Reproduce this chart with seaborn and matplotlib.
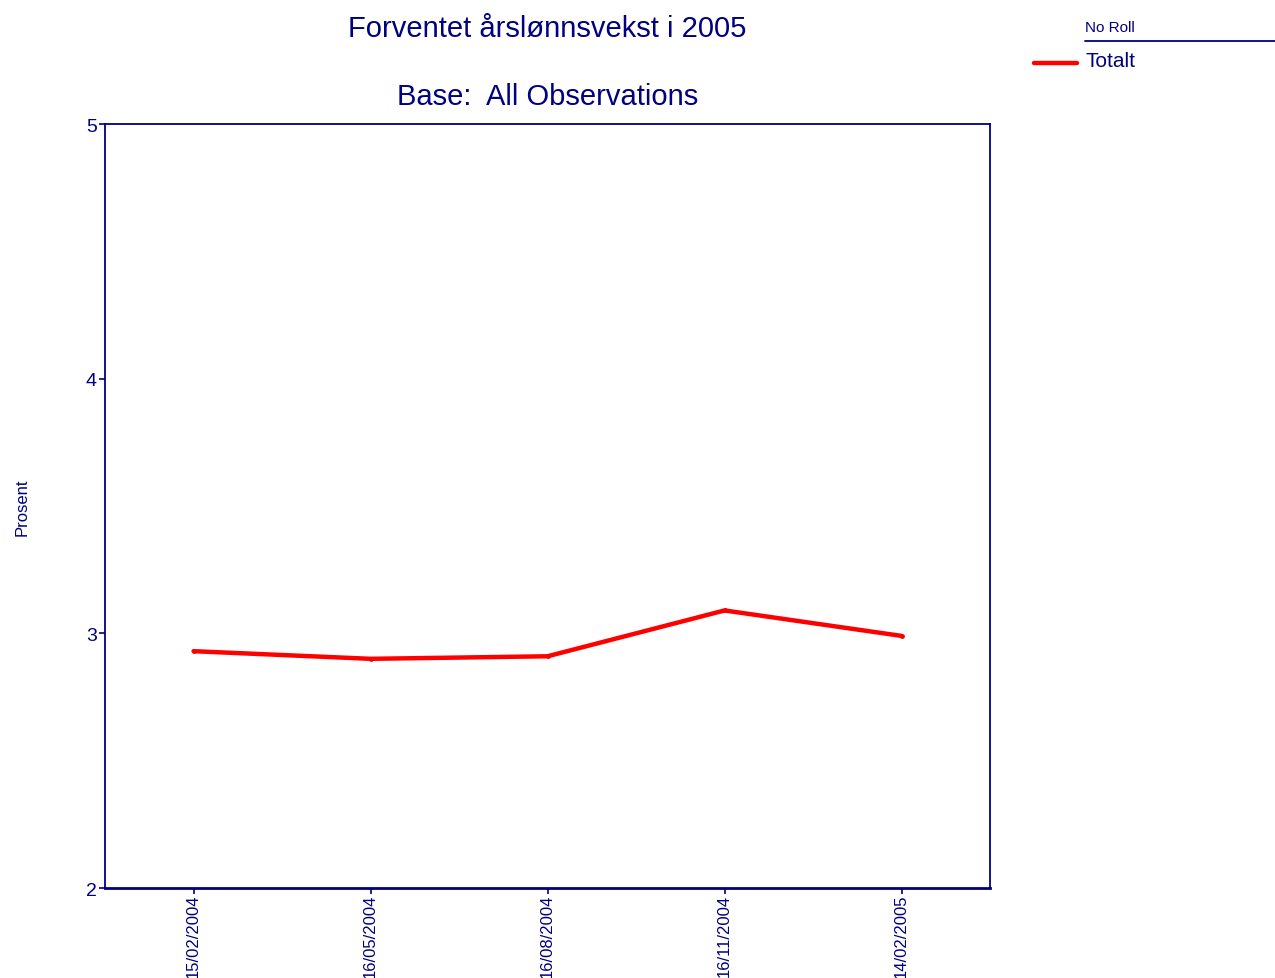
"""
Forventet årslønnsvekst i 2005 – line chart, Base: All Observations
"""

import pandas as pd
import matplotlib.pyplot as plt
from matplotlib.lines import Line2D
import seaborn as sns

NAVY = "#000080"
RED = "#ff0000"

DATES = ["15/02/2004", "16/05/2004", "16/08/2004", "16/11/2004", "14/02/2005"]
TOTALT = [2.93, 2.90, 2.91, 3.09, 2.99]
Y_TICKS = [2, 3, 4, 5]

df = pd.DataFrame({"dato": DATES, "Totalt": TOTALT})
df["pos"] = range(len(df))

sns.set_style("white")
plt.rcParams["font.family"] = ["Liberation Sans", "DejaVu Sans"]

fig = plt.figure(figsize=(12.75, 9.79), dpi=100)
ax = fig.add_axes([0.0824, 0.0919, 0.6941, 0.7804])

sns.lineplot(data=df, x="pos", y="Totalt", ax=ax, color=RED, linewidth=3.2,
             marker="o", markersize=3.5, markeredgewidth=0, legend=False)

ax.set_xlim(-0.5, len(DATES) - 0.5)
ax.set_ylim(2, 5)
ax.set_xticks(df["pos"])
ax.set_xticklabels(DATES, rotation=90, fontsize=12, color=NAVY)
ax.set_yticks(Y_TICKS)
ax.set_yticklabels([str(t) for t in Y_TICKS], fontsize=14, color=NAVY)
ax.tick_params(axis="both", direction="out", length=4, width=1.2, color=NAVY,
               left=True, bottom=True, pad=2)
ax.tick_params(axis="x", pad=0)
ax.set_xlabel("")
ax.set_ylabel("Prosent", fontsize=12, color=NAVY)
ax.yaxis.set_label_coords(-0.085, 0.5)
for side in ["left", "right", "top", "bottom"]:
    ax.spines[side].set_color(NAVY)
    ax.spines[side].set_linewidth(1.3)
ax.spines["bottom"].set_linewidth(2)

# titles
fig.text(0.4294, 0.970, "Forventet årslønnsvekst i 2005", ha="center", va="center",
         fontsize=21, color=NAVY)
fig.text(0.4294, 0.901, "Base:  All Observations", ha="center", va="center",
         fontsize=21, color=NAVY)

# legend block
fig.text(0.851, 0.971, "No Roll", ha="left", va="center", fontsize=11, color=NAVY)
fig.add_artist(Line2D([0.851, 1.0], [0.957, 0.957], color=NAVY, linewidth=1.3))
fig.add_artist(Line2D([0.811, 0.845], [0.935, 0.935], color=RED, linewidth=3.2,
                      solid_capstyle="round"))
fig.text(0.851, 0.937, "Totalt", ha="left", va="center", fontsize=15, color=NAVY)

plt.savefig("out.png", dpi=100)
